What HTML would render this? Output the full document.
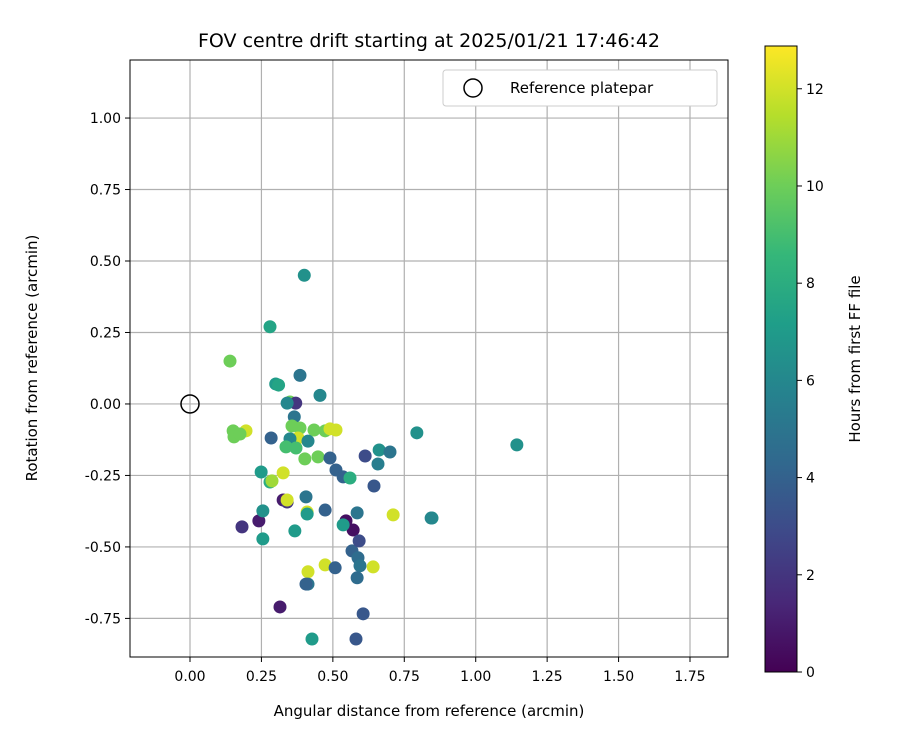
<!DOCTYPE html>
<html><head><meta charset="utf-8"><style>
body{margin:0;background:#fff;}
svg{display:block;font-family:"DejaVu Sans","Liberation Sans",sans-serif;}
</style></head><body>
<svg id="chart" width="900" height="750" viewBox="0 0 900 750" xmlns="http://www.w3.org/2000/svg">
<defs>
<linearGradient id="vir" x1="0" y1="1" x2="0" y2="0">
<stop offset="0" stop-color="#440154"/><stop offset="0.111" stop-color="#482878"/><stop offset="0.222" stop-color="#3e4989"/><stop offset="0.333" stop-color="#31688e"/><stop offset="0.444" stop-color="#26828e"/><stop offset="0.556" stop-color="#1f9e89"/><stop offset="0.667" stop-color="#35b779"/><stop offset="0.778" stop-color="#6ece58"/><stop offset="0.889" stop-color="#b5de2b"/><stop offset="1" stop-color="#fde725"/>
</linearGradient>
<clipPath id="pc"><rect x="130" y="60" width="598" height="597"/></clipPath>
</defs>
<text x="429" y="47" font-size="19" text-anchor="middle">FOV centre drift starting at 2025/01/21 17:46:42</text>
<g id="grid"></g>
<g id="points" clip-path="url(#pc)"></g>
<rect x="130" y="60" width="598" height="597" fill="none" stroke="#000" stroke-width="1"/>
<g id="ticks"></g>
<text x="429" y="716" font-size="15" text-anchor="middle">Angular distance from reference (arcmin)</text>
<text transform="translate(37,358) rotate(-90)" font-size="15" text-anchor="middle">Rotation from reference (arcmin)</text>
<g>
<rect x="443" y="70" width="274" height="36" rx="3" fill="#fff" stroke="#ccc"/>
<circle cx="473" cy="88" r="9" fill="none" stroke="#000" stroke-width="1.5"/>
<text x="510" y="93" font-size="15">Reference platepar</text>
</g>
<rect x="765" y="46" width="32" height="626" fill="url(#vir)" stroke="#000"/>
<g id="cbticks"></g>
<text transform="translate(860,359) rotate(-90)" font-size="15" text-anchor="middle">Hours from first FF file</text>
</svg>
<script>
const xTicks=[0,0.25,0.5,0.75,1.0,1.25,1.5,1.75];
const yTicks=[-0.75,-0.5,-0.25,0,0.25,0.5,0.75,1.0];
const cTicks=[0,2,4,6,8,10,12];
const xs=[0.40,0.28,0.14,0.30,0.31,0.385,0.455,0.35,0.37,0.34,0.365,0.151,0.196,0.154,0.175,0.284,0.357,0.385,0.434,0.473,0.49,0.511,0.378,0.35,0.413,0.336,0.371,0.402,0.448,0.49,0.511,0.536,0.56,0.613,0.662,0.658,0.70,0.794,1.144,0.249,0.28,0.326,0.287,0.326,0.34,0.34,0.406,0.41,0.41,0.473,0.546,0.571,0.536,0.585,0.644,0.711,0.847,0.844,0.182,0.241,0.255,0.255,0.367,0.567,0.592,0.588,0.595,0.585,0.641,0.473,0.508,0.413,0.413,0.406,0.606,0.315,0.427,0.581];
const ys=[0.45,0.27,0.15,0.07,0.066,0.10,0.03,0.007,0.003,0.003,-0.045,-0.094,-0.094,-0.115,-0.105,-0.119,-0.077,-0.084,-0.091,-0.094,-0.087,-0.091,-0.119,-0.122,-0.13,-0.15,-0.154,-0.192,-0.185,-0.189,-0.231,-0.255,-0.259,-0.182,-0.161,-0.21,-0.168,-0.101,-0.143,-0.238,-0.273,-0.241,-0.269,-0.336,-0.343,-0.336,-0.325,-0.378,-0.385,-0.371,-0.409,-0.441,-0.423,-0.381,-0.287,-0.388,-0.399,-0.399,-0.43,-0.409,-0.374,-0.472,-0.444,-0.514,-0.479,-0.538,-0.566,-0.608,-0.57,-0.563,-0.573,-0.587,-0.63,-0.63,-0.734,-0.71,-0.822,-0.822];
const hours=[6.5,7.5,10,7,7.5,5,6,10,2,6,5,10,12,10,10,4,10,10,10,10,12,12,12,6,6,9,9,10,10,4,4,4,8,3,6.5,5.5,5,6.5,6.5,7,8,12,11,1,2,12,5,12,7,4,0.5,0.5,7,5,3.5,12,6.5,6,2,1,6.5,7,7,4,3,4.5,5,4.5,12,12,4,12,5,4,3.5,1,7,3.5];
const X0=-0.21,X1=1.883,Y0=-0.885,Y1=1.203,CMAX=12.88;
const sx=v=>130+(v-X0)/(X1-X0)*598;
const sy=v=>657-(v-Y0)/(Y1-Y0)*597;
const sc=v=>672-v/CMAX*626;
const vir=["#440154","#482878","#3e4989","#31688e","#26828e","#1f9e89","#35b779","#6ece58","#b5de2b","#fde725"];
function hex(h){return [1,3,5].map(i=>parseInt(h.substr(i,2),16));}
function cmap(v){let t=Math.max(0,Math.min(1,v/CMAX))*9;let i=Math.min(8,Math.floor(t)),f=t-i;
 const a=hex(vir[i]),b=hex(vir[i+1]);return "rgb("+a.map((c,k)=>Math.round(c+(b[k]-c)*f)).join(",")+")";}
const NS="http://www.w3.org/2000/svg";
function mk(tag,attrs,parent){const e=document.createElementNS(NS,tag);for(const k in attrs)e.setAttribute(k,attrs[k]);parent.appendChild(e);return e;}
const grid=document.getElementById('grid'),ticks=document.getElementById('ticks'),pts=document.getElementById('points'),cb=document.getElementById('cbticks');
xTicks.forEach(v=>{const x=sx(v);
 const g=mk('line',{x1:x,x2:x,y1:60,y2:657,stroke:'#b0b0b0','stroke-width':1.2},grid);
 
 
 mk('line',{x1:x,x2:x,y1:657,y2:662,stroke:'#000'},ticks);
 const t=mk('text',{x:x,y:681,'font-size':14,'text-anchor':'middle'},ticks);t.textContent=v.toFixed(2);
 
 });
yTicks.forEach(v=>{const y=sy(v);
 const g=mk('line',{x1:130,x2:728,y1:y,y2:y,stroke:'#b0b0b0','stroke-width':1.2},grid);
 
 
 mk('line',{x1:125,x2:130,y1:y,y2:y,stroke:'#000'},ticks);
 const t=mk('text',{x:121,y:y+5,'font-size':14,'text-anchor':'end'},ticks);t.textContent=v.toFixed(2);
 
 });
xs.forEach((v,i)=>{const c=mk('circle',{cx:sx(v),cy:sy(ys[i]),r:6.5,fill:cmap(hours[i])},pts);
 
 });
const ref=mk('circle',{cx:sx(0),cy:sy(0),r:9,fill:'none',stroke:'#000','stroke-width':1.5},pts);


cTicks.forEach(v=>{const y=sc(v);
 mk('line',{x1:797,x2:802,y1:y,y2:y,stroke:'#000'},cb);
 const t=mk('text',{x:806,y:y+5,'font-size':14},cb);t.textContent=v;
 
 });
</script>
</body></html>
